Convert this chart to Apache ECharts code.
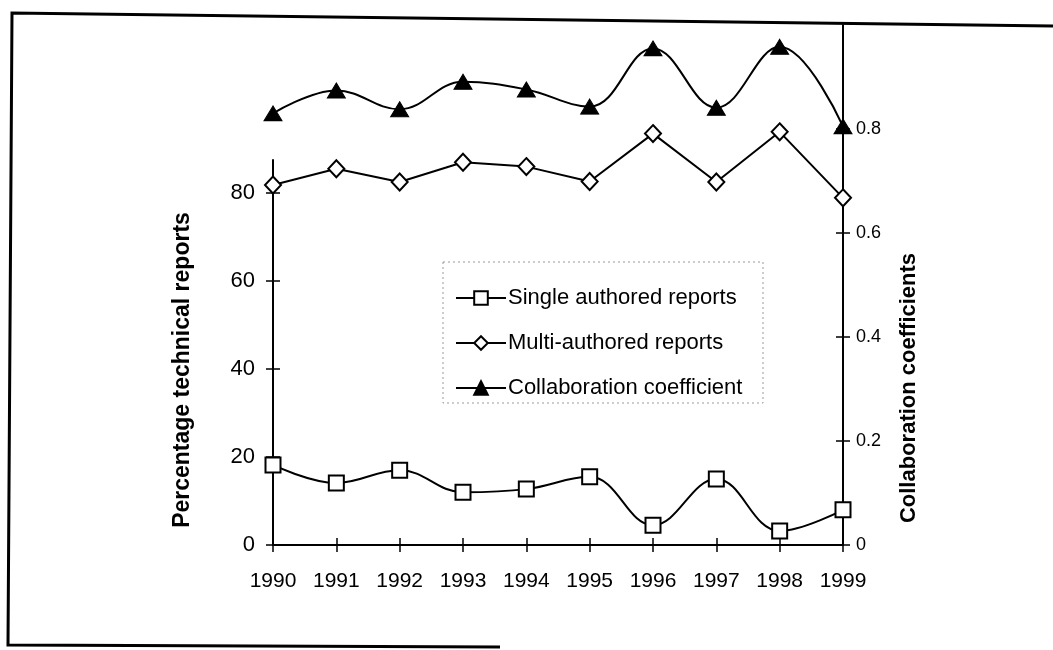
<!DOCTYPE html>
<html lang="en">
<head>
  <meta charset="UTF-8">
  <title>Technical reports 1990-1999</title>
  <script src="https://cdn.jsdelivr.net/npm/echarts@6/dist/echarts.min.js"></script>
  <style>
    body { margin: 0; padding: 0; background: #fff; }
    #chart { width: 1053px; height: 650px; }
  </style>
</head>
<body>
  <div id="chart"></div>
  <script>
    // data
    var years = ['1990', '1991', '1992', '1993', '1994', '1995', '1996', '1997', '1998', '1999'];
    var singleAuthored = [18.2, 14.1, 17.0, 12.0, 12.7, 15.5, 4.5, 15.0, 3.2, 8.0];
    var multiAuthored = [81.8, 85.5, 82.5, 87.0, 86.0, 82.6, 93.5, 82.5, 93.9, 78.9];
    var collabCoef = [0.830, 0.874, 0.838, 0.891, 0.876, 0.843, 0.955, 0.841, 0.958, 0.805];
    var leftTicks = [0, 20, 40, 60, 80];
    var rightTicks = [0, 0.2, 0.4, 0.6, 0.8];

    var font = 'Liberation Sans, Arial, sans-serif';
    var chart = echarts.init(document.getElementById('chart'));

    // two copies of each axis (outside + inside ticks) so the ticks cross the line
    var catAxis = function (grid, show, inside) {
      return {
        type: 'category', gridIndex: grid, position: 'bottom', data: years, boundaryGap: false,
        show: show,
        axisLine: { show: !inside, lineStyle: { color: '#000', width: 2 } },
        axisTick: { show: true, inside: inside, interval: 0, length: 7, lineStyle: { color: '#000', width: 1.5 } },
        axisLabel: { show: !inside, interval: 0, hideOverlap: false, color: '#000', fontSize: 21, fontFamily: font, margin: 26 },
        splitLine: { show: false }
      };
    };

    var valAxis = function (grid, pos, max, ticks, inside, fmt, size, margin) {
      return {
        type: 'value', gridIndex: grid, position: pos, min: 0, max: max,
        axisLine: { show: !inside, lineStyle: { color: '#000', width: 2 } },
        axisTick: { show: true, inside: inside, length: 7, customValues: ticks, lineStyle: { color: '#000', width: 1.5 } },
        axisLabel: { show: !inside, customValues: ticks, color: '#000', fontSize: size, fontFamily: font, margin: margin, formatter: fmt },
        splitLine: { show: false }
      };
    };

    var option = {
      backgroundColor: '#fff',
      animation: false,
      grid: [
        { left: 273, right: 210, top: 160, bottom: 105 },
        { left: 273, right: 210, top: 25, bottom: 105 }
      ],
      xAxis: [
        catAxis(0, true, false),
        catAxis(0, true, true),
        catAxis(1, false, false)
      ],
      yAxis: [
        valAxis(0, 'left', 87.5, leftTicks, false, function (v) { return v; }, 22, 18),
        valAxis(0, 'left', 87.5, leftTicks, true, null, 22, 18),
        valAxis(1, 'right', 1, rightTicks, false, function (v) { return v === 0 ? '0' : v.toFixed(1); }, 18, 13),
        valAxis(1, 'right', 1, rightTicks, true, null, 18, 13)
      ],
      legend: {
        orient: 'vertical', left: 450, top: 282, itemGap: 23,
        itemWidth: 50, itemHeight: 17,
        textStyle: { color: '#000', fontSize: 22, fontFamily: font, padding: [0, 0, 0, -3] },
        data: ['Single authored reports', 'Multi-authored reports', 'Collaboration coefficient']
      },
      graphic: [
        { type: 'rect', shape: { x: 443, y: 262, width: 320, height: 141 },
          style: { fill: 'none', stroke: '#999', lineWidth: 1, lineDash: [2, 3] }, z: 0 },
        { type: 'polyline', shape: { points: [[1053, 26], [12, 13], [8, 645], [500, 647]] },
          style: { fill: 'none', stroke: '#000', lineWidth: 3 } },
        { type: 'text', x: 183, y: 370, rotation: Math.PI / 2,
          style: { text: 'Percentage technical reports', fontSize: 23, fontWeight: 'bold', fontFamily: font,
            fill: '#000', align: 'center', verticalAlign: 'middle' } },
        { type: 'text', x: 909, y: 388, rotation: Math.PI / 2,
          style: { text: 'Collaboration coefficients', fontSize: 22, fontWeight: 'bold', fontFamily: font,
            fill: '#000', align: 'center', verticalAlign: 'middle' } }
      ],
      series: [
        {
          name: 'Single authored reports', type: 'line', xAxisIndex: 0, yAxisIndex: 0,
          data: singleAuthored, smooth: 0.4, clip: false,
          symbol: 'rect', symbolSize: 15,
          lineStyle: { color: '#000', width: 2 },
          itemStyle: { color: '#fff', borderColor: '#000', borderWidth: 2 }
        },
        {
          name: 'Multi-authored reports', type: 'line', xAxisIndex: 0, yAxisIndex: 0,
          data: multiAuthored, clip: false,
          symbol: 'diamond', symbolSize: [16, 17],
          lineStyle: { color: '#000', width: 2 },
          itemStyle: { color: '#fff', borderColor: '#000', borderWidth: 2 }
        },
        {
          name: 'Collaboration coefficient', type: 'line', xAxisIndex: 2, yAxisIndex: 2,
          data: collabCoef, smooth: 0.4, clip: false,
          symbol: 'triangle', symbolSize: [18, 15],
          lineStyle: { color: '#000', width: 2 },
          itemStyle: { color: '#000', borderColor: '#000', borderWidth: 1 }
        }
      ]
    };

    chart.setOption(option);
  </script>
</body>
</html>
